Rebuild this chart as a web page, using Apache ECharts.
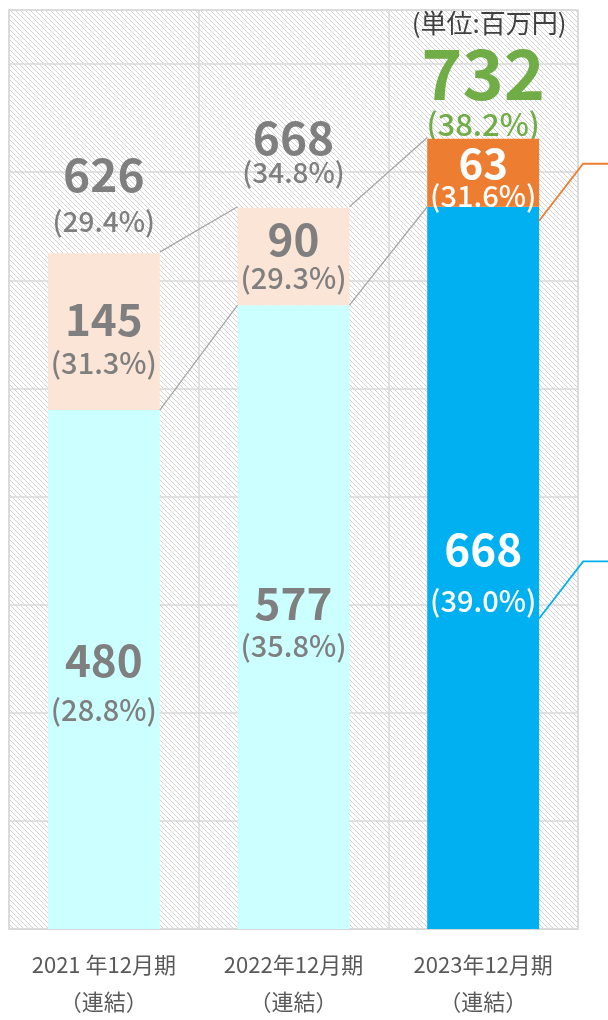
<!DOCTYPE html>
<html>
<head>
<meta charset="utf-8">
<script src="https://cdn.jsdelivr.net/npm/echarts@6/dist/echarts.min.js"></script>
<style>
  html, body { margin: 0; padding: 0; background: #fff; }
  #chart { width: 608px; height: 1020px; }
</style>
</head>
<body>
<div id="chart"></div>
<script>
const categories = ['2021 年12月期\n（連結）', '2022年12月期\n（連結）', '2023年12月期\n（連結）'];
const baseValues = [480, 577, 668];
const basePct = ['28.8%', '35.8%', '39.0%'];
const upperValues = [145, 90, 63];
const upperPct = ['31.3%', '29.3%', '31.6%'];
const totalValues = [626, 668, 732];
const totalPct = ['29.4%', '34.8%', '38.2%'];
const yMax = 850;
const yStep = 100;
const unitText = '(単位:百万円)';

// styling per bar (2023 is highlighted)
const baseColors = ['#CCFFFF', '#CCFFFF', '#00B0F0'];
const upperColors = ['#FBE5D6', '#FBE5D6', '#ED7D31'];
const baseText = ['#7F7F7F', '#7F7F7F', '#FFFFFF'];
const upperText = ['#7F7F7F', '#7F7F7F', '#FFFFFF'];
const totalText = ['#7F7F7F', '#7F7F7F', '#70AD47'];
const totalSize = [46, 46, 70];
const FONT = '"Noto Sans CJK JP", "Noto Sans", sans-serif';

// label line heights / nudges, tuned to the picture
const totalLayout = [{ h1: 64, dy: -16 }, { h1: 40, dy: -19 }, { h1: 70, dy: 3 }];
const upperLayout = [{ h1: 56, dy: 3 }, { h1: 46, dy: -2 }, { h1: 36, dy: 5 }];
const baseLayout = [{ h1: 68, dy: 6 }, { h1: 56, dy: 1 }, { h1: 74, dy: -4 }];

function hatch() {
  const c = document.createElement('canvas');
  c.width = 5; c.height = 5;
  const g = c.getContext('2d');
  g.fillStyle = '#fff';
  g.fillRect(0, 0, 5, 5);
  g.strokeStyle = '#D3D3D3';
  g.lineWidth = 1;
  g.beginPath();
  g.moveTo(-1, -1); g.lineTo(6, 6);
  g.moveTo(-1, 4); g.lineTo(1, 6);
  g.moveTo(4, -1); g.lineTo(6, 1);
  g.stroke();
  return c;
}

function richLabel(val, pct, color, vSize, pSize, h1, pH) {
  return {
    show: true,
    formatter: '{v|' + val + '}\n{p|(' + pct + ')}',
    rich: {
      v: { fontFamily: FONT, fontSize: vSize, fontWeight: 'bold', color: color, lineHeight: h1, align: 'center' },
      p: { fontFamily: FONT, fontSize: pSize, fontWeight: 500, color: color, lineHeight: pH, align: 'center' }
    }
  };
}

const baseData = baseValues.map((v, i) => ({
  value: v,
  itemStyle: { color: baseColors[i] },
  label: Object.assign(richLabel(v, basePct[i], baseText[i], 44, 29, baseLayout[i].h1, 30),
    { position: 'inside', offset: [0, baseLayout[i].dy] })
}));
const upperData = upperValues.map((v, i) => ({
  value: v,
  itemStyle: { color: upperColors[i] },
  label: Object.assign(richLabel(v, upperPct[i], upperText[i], i === 2 ? 42 : 44, 29, upperLayout[i].h1, 30),
    { position: 'inside', offset: [0, upperLayout[i].dy] })
}));
const totalData = totalValues.map((v, i) => ({
  value: v,
  label: Object.assign(richLabel(v, totalPct[i], totalText[i], totalSize[i], i === 2 ? 31 : 28, totalLayout[i].h1, i === 2 ? 32 : 30),
    { position: 'top', distance: 0, offset: [0, totalLayout[i].dy] })
}));

const chart = echarts.init(document.getElementById('chart'));

chart.setOption({
  animation: false,
  grid: {
    left: 9, right: 30, top: 10, bottom: 88,
    show: true,
    borderColor: '#D9D9D9',
    borderWidth: 1.5,
    backgroundColor: { image: hatch(), repeat: 'repeat' }
  },
  xAxis: {
    type: 'category',
    data: categories,
    axisLine: { lineStyle: { color: '#D9D9D9', width: 1.5 } },
    axisTick: { show: false },
    splitLine: { show: true, lineStyle: { color: '#D9D9D9', width: 1.5 } },
    axisLabel: {
      interval: 0,
      color: '#595959',
      fontFamily: FONT,
      fontSize: 22,
      lineHeight: 37,
      margin: 17
    }
  },
  yAxis: {
    type: 'value',
    min: 0,
    max: yMax,
    interval: yStep,
    axisLabel: { show: false },
    axisLine: { show: false },
    axisTick: { show: false },
    splitLine: { lineStyle: { color: '#D9D9D9', width: 1.5 } }
  },
  series: [
    {
      name: 'total',
      type: 'bar',
      barWidth: '59%',
      barGap: '-100%',
      z: 1,
      silent: true,
      itemStyle: { color: 'rgba(0,0,0,0)' },
      data: totalData
    },
    {
      name: 'base',
      type: 'bar',
      stack: 'sales',
      barWidth: '59%',
      barGap: '-100%',
      z: 2,
      data: baseData
    },
    {
      name: 'upper',
      type: 'bar',
      stack: 'sales',
      barWidth: '59%',
      barGap: '-100%',
      z: 2,
      data: upperData
    }
  ]
});

// connector and leader lines from the axis scales
const px = (i, v) => chart.convertToPixel({ xAxisIndex: 0, yAxisIndex: 0 }, [i, v]);
const band = px(1, 0)[0] - px(0, 0)[0];
const half = band * 0.59 / 2;
const graphics = [];
for (let i = 0; i < categories.length - 1; i++) {
  [totalValues, baseValues].forEach(arr => {
    const a = px(i, arr[i]);
    const b = px(i + 1, arr[i + 1]);
    graphics.push({
      type: 'line', z: 5, silent: true,
      shape: { x1: a[0] + half, y1: a[1], x2: b[0] - half, y2: b[1] },
      style: { stroke: '#A6A6A6', lineWidth: 1.3 }
    });
  });
}
const last = categories.length - 1;
const edge = px(last, 0)[0] + half;
const orangeY = px(last, baseValues[last])[1] + 14;
const blueY = px(last, baseValues[last] * 0.43)[1];
[[orangeY, '#ED7D31'], [blueY, '#00B0F0']].forEach(([y, c]) => {
  graphics.push({
    type: 'polyline', z: 5, silent: true,
    shape: { points: [[edge, y], [edge + 44, y - 57], [608, y - 57]] },
    style: { stroke: c, lineWidth: 1.8, fill: null }
  });
});
graphics.push({
  type: 'text', z: 6, silent: true,
  x: px(last, 0)[0] + 6, y: 23,
  style: {
    text: unitText, fill: '#404040', font: '26px ' + FONT,
    textAlign: 'center', textVerticalAlign: 'middle'
  }
});
chart.setOption({ graphic: graphics });
</script>
</body>
</html>
